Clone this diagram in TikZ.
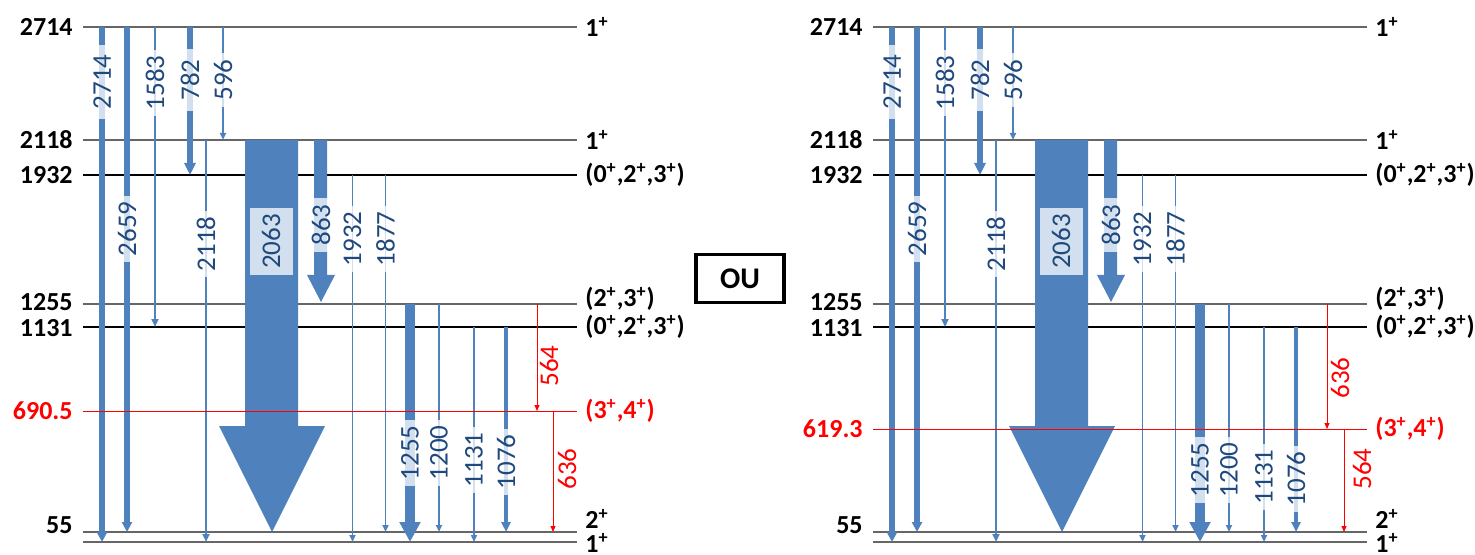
\documentclass[tikz,border=0pt]{standalone}
\usepackage{fontspec}
\setmainfont{Carlito}
\usetikzlibrary{arrows.meta}
\definecolor{ablue}{RGB}{79,129,189}
\definecolor{tblue}{RGB}{31,73,125}
\tikzset{
  lvl/.style={draw=black!60, line width=0.9pt},
  lvlk/.style={draw=black, line width=0.6pt},
  lvlr/.style={draw=red, line width=0.5pt},
  elab/.style={anchor=east, inner sep=0pt, font=\bfseries\fontsize{13}{15}\selectfont},
  jlab/.style={anchor=west, inner sep=0pt, font=\bfseries\fontsize{13}{15}\selectfont},
  glab/.style={rotate=90, text=tblue, fill=white, fill opacity=0.75, text opacity=1, inner xsep=3pt, inner ysep=1pt, font=\fontsize{13.5}{15}\selectfont},
  rlab/.style={rotate=90, text=red, inner sep=1pt, font=\fontsize{13.5}{15}\selectfont},
  gthick/.style={draw=ablue, line width=2.6pt, -{Triangle[width=5pt,length=5pt]}},
  gmid/.style={draw=ablue, line width=1.3pt, -{Triangle[width=3.5pt,length=4pt]}},
  gthin/.style={draw=ablue, line width=0.9pt, -{Triangle[width=3pt,length=3.5pt]}},
  gred/.style={draw=red, line width=0.5pt, -{Triangle[width=2.5pt,length=3pt]}},
  gfat/.style={draw=ablue, line width=5pt, -{Triangle[width=10pt,length=10pt]}},
  gfour/.style={draw=ablue, line width=2pt, -{Triangle[width=4.5pt,length=5pt]}},
  bigarrow/.style={fill=ablue},
  oubox/.style={draw=black, line width=1.8pt, minimum width=44pt, minimum height=24pt, inner sep=0pt, font=\bfseries\fontsize{15}{17}\selectfont}
}
\newcommand\scheme[2]{%
  \coordinate (#1-2714) at (83,27);
  \coordinate (#1-2118) at (83,140);
  \coordinate (#1-1932) at (83,175);
  \coordinate (#1-1255) at (83,304);
  \coordinate (#1-1131) at (83,327);
  \coordinate (#1-55) at (83,532);
  \coordinate (#1-0) at (83,542);
  \draw[lvl] (#1-2714) -- ++(494,0);
  \draw[lvl] (#1-2118) -- ++(494,0);
  \draw[lvlk] (#1-1932) -- ++(494,0);
  \draw[lvl] (#1-1255) -- ++(494,0);
  \draw[lvlk] (#1-1131) -- ++(494,0);
  \draw[lvl] (#1-55) -- ++(494,0);
  \draw[lvl] (#1-0) -- ++(494,0);
  \node[elab] (#1-e2714) at (73,27) {2714};
  \node[elab] (#1-e2118) at (73,140) {2118};
  \node[elab] (#1-e1932) at (73,175) {1932};
  \node[elab] (#1-e1255) at (73,302) {1255};
  \node[elab] (#1-e1131) at (73,328) {1131};
  \node[elab] (#1-e55) at (73,525) {55};
  \node[jlab] (#1-j2714) at (585,27) {1\textsuperscript{+}};
  \node[jlab] (#1-j2118) at (585,140) {1\textsuperscript{+}};
  \node[jlab] (#1-j1932) at (585,175) {(0\textsuperscript{+},2\textsuperscript{+},3\textsuperscript{+})};
  \node[jlab] (#1-j1255) at (585,299) {(2\textsuperscript{+},3\textsuperscript{+})};
  \node[jlab] (#1-j1131) at (585,327) {(0\textsuperscript{+},2\textsuperscript{+},3\textsuperscript{+})};
  \node[jlab,anchor=base west] (#1-j55) at (585,528) {2\textsuperscript{+}};
  \node[jlab,anchor=base west] (#1-j0) at (585,552.5) {1\textsuperscript{+}};
  \draw[gthick] (102,0 |- #1-2714) -- (102,0 |- #1-0);
  \draw[gthick] (127,0 |- #1-2714) -- (127,0 |- #1-55);
  \draw[gmid] (155,0 |- #1-2714) -- (155,0 |- #1-1131);
  \draw[gthick,-{Triangle[width=5.5pt,length=6pt]}] (190,0 |- #1-2714) -- (190,0 |- #1-1932);
  \draw[gthin] (223,0 |- #1-2714) -- (223,0 |- #1-2118);
  \draw[gmid] (206,0 |- #1-2118) -- (206,0 |- #1-0);
  \fill[bigarrow] (245,0 |- #1-2118) -- (298,0 |- #1-2118) -- (298,426) -- (325,426) -- (272,0 |- #1-55) -- (219,426) -- (245,426) -- cycle;
  \fill[bigarrow] (314,0 |- #1-2118) -- (327,0 |- #1-2118) -- (327,275) -- (335,275) -- (321,302) -- (307,275) -- (314,275) -- cycle;
  \draw[gthin] (352.5,0 |- #1-1932) -- (352.5,0 |- #1-0);
  \draw[gthin] (385.5,0 |- #1-1932) -- (385.5,0 |- #1-55);
  \draw[gfat] (410,0 |- #1-1255) -- (410,0 |- #1-0);
  \draw[gthin] (439,0 |- #1-1255) -- (439,0 |- #1-55);
  \draw[gthin,line width=0.75pt] (474,0 |- #1-1131) -- (474,0 |- #1-0);
  \draw[gfour] (506,0 |- #1-1131) -- (506,0 |- #1-55);
  \node[glab,inner xsep=5pt] (#1-t2714) at (102,82) {2714};
  \node[glab] (#1-t1583) at (155,83) {1583};
  \node[glab,inner xsep=5pt] (#1-t782) at (190,80) {782};
  \node[glab] (#1-t596) at (223,80) {596};
  \node[glab] (#1-t2659) at (127,229) {2659};
  \node[glab] (#1-t2118) at (206,244) {2118};
  \node[glab,minimum width=30.5pt,minimum height=21.5pt] (#1-t2063) at (271,241.5) {2063};
  \node[glab] (#1-t863) at (321,225) {863};
  \node[glab] (#1-t1932) at (352.5,239) {1932};
  \node[glab] (#1-t1877) at (385.5,239) {1877};
  \node[glab] (#1-t1255) at (410,453+#2) {1255};
  \node[glab] (#1-t1200) at (439,453+#2) {1200};
  \node[glab] (#1-t1131) at (474,460+#2) {1131};
  \node[glab] (#1-t1076) at (506,462+#2) {1076};
}
\begin{document}
\begin{tikzpicture}[x=0.5pt,y=-0.5pt]
\useasboundingbox (0,0) rectangle (1475,555);
% left panel
\scheme{L}{0}
\coordinate (L-red) at (83,411);
\draw[lvlr] (L-red) -- ++(494,0);
\node[elab,text=red] (L-ered) at (73,411) {690.5};
\node[jlab,text=red] (L-jred) at (585,411) {(3\textsuperscript{+},4\textsuperscript{+})};
\draw[gred] (537,0 |- L-1255) -- (537,0 |- L-red);
\draw[gred] (553,0 |- L-red) -- (553,0 |- L-55);
\node[rlab] (L-t564) at (549,366) {564};
\node[rlab] (L-t636) at (567,469) {636};
% OU
\node[oubox] (ou) at (740,278.5) {OU};
% right panel
\begin{scope}[xshift=395pt]
\scheme{R}{17}
\coordinate (R-red) at (83,429);
\draw[lvlr] (R-red) -- ++(494,0);
\node[elab,text=red] (R-ered) at (73,429) {619.3};
\node[jlab,text=red] (R-jred) at (585,429) {(3\textsuperscript{+},4\textsuperscript{+})};
\draw[gred] (537,0 |- R-1255) -- (537,0 |- R-red);
\draw[gred] (554,0 |- R-red) -- (554,0 |- R-55);
\node[rlab] (R-t636) at (550,378) {636};
\node[rlab] (R-t564) at (572,469) {564};
\end{scope}
\end{tikzpicture}
\end{document}
